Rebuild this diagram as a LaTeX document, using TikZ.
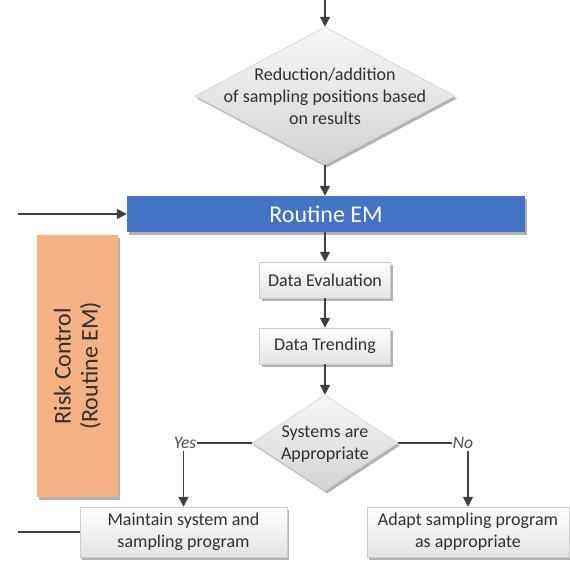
\documentclass[tikz,border=0pt]{standalone}
\usepackage{fontspec}
\setmainfont{Carlito}
\usetikzlibrary{shapes.geometric,arrows.meta,shadows}
\definecolor{routineblue}{HTML}{4472C4}
\definecolor{riskorange}{HTML}{F4B183}
\definecolor{linegray}{HTML}{404040}
\definecolor{txtgray}{HTML}{303030}
\begin{document}
\begin{tikzpicture}[x=1pt,y=-1pt,
  flow/.style={draw=linegray, line width=1.4pt, -{Triangle[width=10pt,length=10pt]}},
  plainline/.style={draw=linegray, line width=1.2pt},
  softshadow/.style={drop shadow={shadow xshift=2pt, shadow yshift=-2.5pt, opacity=0.3, fill=black}},
  stepbox/.style={rectangle, draw=gray!40, line width=0.5pt, top color=white, bottom color=gray!22,
    text=txtgray, font=\fontsize{18}{22}\selectfont, align=center, inner sep=0pt, softshadow},
  decision/.style={diamond, draw=gray!40, line width=0.5pt, top color=gray!6, bottom color=gray!35,
    inner sep=0pt, softshadow},
  decisiontext/.style={text=txtgray, font=\fontsize{18}{22}\selectfont, align=center, inner sep=0pt},
  branchtext/.style={text=txtgray!85, font=\fontsize{17.5}{17.5}\selectfont\itshape, inner sep=1pt}
]
\useasboundingbox[fill=white] (0,0) rectangle (570,560);

% decision on sampling positions
\node[decision, minimum width=260pt, minimum height=138pt] (reduce) at (325,96) {};
\node[decisiontext] (reducetext) at (325,96) {Reduction/addition\\of sampling positions based\\on results};

% routine environmental monitoring bar
\node[rectangle, fill=routineblue, minimum width=398pt, minimum height=36pt, inner sep=0pt,
  text=white, font=\fontsize{24}{24}\selectfont, softshadow] (routine) at (326,214) {Routine EM};

% risk control side bar
\node[rectangle, fill=riskorange, minimum width=81pt, minimum height=262pt, inner sep=0pt, softshadow] (risk) at (77.5,366) {};
\node[rotate=90, text=txtgray, font=\fontsize{24}{27}\selectfont, align=center] (risktext) at (77.5,366) {Risk Control\\(Routine EM)};

% evaluation steps
\node[stepbox, minimum width=131pt, minimum height=36pt] (evaluation) at (325,280) {Data Evaluation};
\node[stepbox, minimum width=131pt, minimum height=36pt] (trending) at (325,346) {Data Trending};

% decision on systems
\node[decision, minimum width=146pt, minimum height=96pt] (check) at (325,443) {};
\node[decisiontext] (checktext) at (325,444) {Systems are\\Appropriate};

% outcomes
\node[stepbox, minimum width=207pt, minimum height=50pt] (maintain) at (183.5,532) {Maintain system and\\sampling program};
\node[stepbox, minimum width=202pt, minimum height=50pt] (adapt) at (468,532) {Adapt sampling program\\as appropriate};

\node[branchtext] (yes) at (185,443) {Yes};
\node[branchtext] (no) at (463,443) {No};

% connectors
\coordinate (topin) at (325,0);
\coordinate (leftin) at (18,214);
\coordinate (leftout) at (18,532);

\draw[flow] (topin) -- (reduce.north);
\draw[flow] (reduce.south) -- (reduce.south |- routine.north);
\draw[flow] (leftin) -- (routine.west);
\draw[flow] (evaluation.north |- routine.south) -- (evaluation.north);
\draw[flow] (evaluation.south) -- (trending.north);
\draw[flow] (trending.south) -- (check.north);
\draw[plainline] (check.west) -- (yes.east);
\draw[plainline] (check.east) -- (no.west);
\draw[flow] ([yshift=-1pt]yes.south -| maintain.north) -- (maintain.north);
\draw[flow] ([yshift=-1pt]no.south -| adapt.north) -- (adapt.north);
\draw[plainline] (leftout) -- (maintain.west);
\end{tikzpicture}
\end{document}
